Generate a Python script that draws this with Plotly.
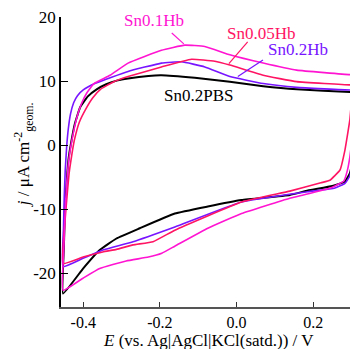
import plotly.graph_objects as go

# ---- data (E / V vs Ag|AgCl, j / uA cm-2), each a closed CV loop ----
E_sn01hb = [-0.4527, -0.4505, -0.4470, -0.4425, -0.4370, -0.4300, -0.4180, -0.405, -0.390, -0.372, -0.330,
            -0.283, -0.196, -0.135, -0.083, -0.0175, 0.0695, 0.157, 0.2958, 0.31,
            0.31, 0.2958, 0.289, 0.280, 0.250, 0.229, 0.139, 0.013, -0.075, -0.161, -0.195, -0.230,
            -0.288, -0.357, -0.4005, -0.4527]
j_sn01hb = [-22.7, -16.0, -10.0, -5.5, -2.0, 0.6, 4.0, 6.4, 8.2, 9.6, 10.9,
            12.8, 14.8, 15.6, 15.4, 14.1, 12.8, 11.7, 11.0, 11.0,
            6.0, -1.8, -4.0, -5.6, -6.6, -7.0, -8.3, -10.7, -13.0, -15.8, -16.9, -17.5,
            -18.1, -19.3, -20.8, -22.7]

E_sn005hb = [-0.4527, -0.4490, -0.4430, -0.4370, -0.4300, -0.4230, -0.410, -0.3927, -0.375, -0.355, -0.320,
             -0.283, -0.196, -0.1175, -0.0567, -0.0175, 0.0695, 0.157, 0.2958, 0.31,
             0.305, 0.2958, 0.2906, 0.2828, 0.270, 0.2436, 0.220, 0.139, 0.013, -0.161, -0.218,
             -0.270, -0.3133, -0.349, -0.4005, -0.4527]
j_sn005hb = [-18.5, -13.0, -8.5, -4.5, -1.6, 0.8, 3.6, 5.7, 7.4, 8.7, 9.9,
             10.7, 12.2, 13.4, 13.1, 12.5, 10.9, 9.9, 9.4, 9.4,
             9.4, 4.0, 2.0, -0.8, -3.9, -5.5, -5.9, -7.2, -8.9, -13.3, -15.1,
             -15.6, -16.3, -16.7, -17.5, -18.5]

E_sn02hb = [-0.4527, -0.4515, -0.4495, -0.4470, -0.4435, -0.4390, -0.4330, -0.4250, -0.415, -0.400, -0.370,
            -0.326, -0.283, -0.196, -0.1436, -0.0828, -0.0175, 0.0695, 0.157, 0.2958, 0.31,
            0.31, 0.2958, 0.2828, 0.2567, 0.186, 0.013, -0.161, -0.270, -0.349, -0.4005, -0.4527]
j_sn02hb = [-19.0, -13.0, -8.0, -4.0, -0.5, 2.5, 4.9, 6.6, 7.7, 8.6, 9.6,
            10.6, 11.5, 12.8, 13.0, 12.2, 10.7, 9.6, 9.0, 8.6, 8.6,
            0.0, -4.8, -6.0, -6.7, -7.3, -8.9, -12.8, -15.1, -16.4, -17.7, -19.0]

E_sn02pbs = [-0.4527, -0.4505, -0.4475, -0.4430, -0.4380, -0.4318, -0.4220, -0.4080, -0.388, -0.365, -0.340,
             -0.310, -0.283, -0.230, -0.196, -0.109, -0.0175, 0.0695, 0.157, 0.2958, 0.31,
             0.31, 0.2958, 0.2828, 0.250, 0.186, 0.139, 0.013, -0.075, -0.161, -0.2525, -0.3133,
             -0.357, -0.4005, -0.4527]
j_sn02pbs = [-23.2, -16.0, -10.0, -5.5, -2.0, 0.3, 3.3, 5.9, 7.6, 8.7, 9.5,
             10.1, 10.4, 10.8, 10.9, 10.5, 9.9, 9.2, 8.7, 8.3, 8.3,
             0.0, -4.4, -5.7, -6.4, -7.1, -7.8, -8.6, -9.6, -10.7, -13.0, -14.6,
             -16.4, -19.3, -23.2]

series_names = ["Sn0.2PBS", "Sn0.2Hb", "Sn0.05Hb", "Sn0.1Hb"]
series_colors = ["#000000", "#7814ff", "#ff1464", "#ff14d2"]
series_widths = [2.0, 1.6, 1.6, 1.6]
series_E = [E_sn02pbs, E_sn02hb, E_sn005hb, E_sn01hb]
series_j = [j_sn02pbs, j_sn02hb, j_sn005hb, j_sn01hb]

# label positions (E, j) and leader lines ((E0, j0), (E1, j1))
label_pos = {"Sn0.1Hb": (-0.216, 19.4), "Sn0.05Hb": (0.0634, 17.5),
             "Sn0.2Hb": (0.160, 15.0), "Sn0.2PBS": (-0.0984, 7.8)}
leaders = {"Sn0.1Hb": ((-0.169, 17.5), (-0.1376, 15.8)),
           "Sn0.05Hb": ((0.029, 16.1), (-0.020, 12.7)),
           "Sn0.2Hb": ((0.069, 13.3), (0.0034, 10.7))}

x_ticks = [-0.4, -0.2, 0.0, 0.2]
x_ticktext = ["-0.4", "-0.2", "0.0", "0.2"]
y_ticks = [-20, -10, 0, 10, 20]
y_ticktext = ["-20", "-10", "0", "10", "20"]

FONT = "Liberation Serif"

fig = go.Figure()
for name, col, w, E, j in zip(series_names, series_colors, series_widths, series_E, series_j):
    fig.add_trace(go.Scatter(x=E, y=j, mode="lines", name=name,
                             line=dict(color=col, width=w, shape="spline", smoothing=0.35),
                             showlegend=False))

color_of = dict(zip(series_names, series_colors))
annotations = []
for name, (ex, jy) in label_pos.items():
    annotations.append(dict(x=ex, y=jy, xref="x", yref="y", text=name, showarrow=False,
                            font=dict(family=FONT, size=17, color=color_of[name]),
                            xanchor="center", yanchor="middle"))
shapes = []
for name, ((x0, y0), (x1, y1)) in leaders.items():
    shapes.append(dict(type="line", xref="x", yref="y", x0=x0, y0=y0, x1=x1, y1=y1,
                       line=dict(color=color_of[name], width=1.2)))

annotations.append(dict(x=(208 - 61) / 289, y=(306.7 - 340) / 289.7, xref="paper", yref="paper",
                        text="<i>E</i> (vs. Ag|AgCl|KCl(satd.)) / V", showarrow=False,
                        font=dict(family=FONT, size=17, color="black"),
                        xanchor="center", yanchor="middle"))
annotations.append(dict(x=(23 - 61) / 289, y=(306.7 - 155) / 289.7, xref="paper", yref="paper",
                        text="<i>j</i> / μA cm<sup>-2</sup><sub>geom.</sub>", showarrow=False,
                        textangle=-90,
                        font=dict(family=FONT, size=17, color="black"),
                        xanchor="center", yanchor="middle"))

fig.update_layout(
    width=350, height=349,
    margin=dict(l=61, r=0, t=17, b=42),
    paper_bgcolor="white", plot_bgcolor="white",
    font=dict(family=FONT, size=17, color="black"),
    annotations=annotations, shapes=shapes,
    xaxis=dict(range=[-0.458, 0.296], tickvals=x_ticks, ticktext=x_ticktext,
               ticks="inside", ticklen=5, tickwidth=1.2, tickcolor="#333",
               showline=True, linecolor="#555555", linewidth=2,
               showgrid=False, zeroline=False, mirror=False,
               tickfont=dict(family=FONT, size=16)),
    yaxis=dict(range=[-25.3, 20], tickvals=y_ticks, ticktext=y_ticktext,
               ticks="inside", ticklen=7, tickwidth=1.2, tickcolor="black",
               showline=True, linecolor="black", linewidth=1.5,
               showgrid=False, zeroline=False, mirror=False,
               tickfont=dict(family=FONT, size=17)),
)

fig.write_html("out.html")
